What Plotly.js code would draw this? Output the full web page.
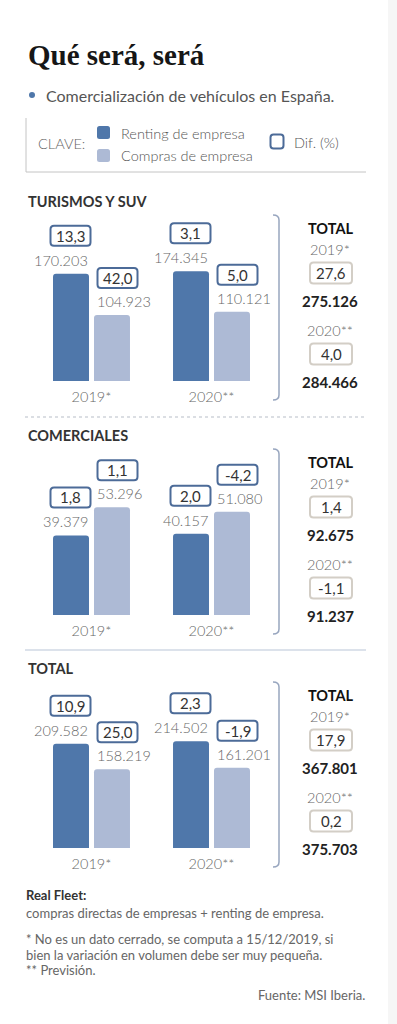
<!DOCTYPE html>
<html><head><meta charset="utf-8">
<script src="https://cdn.plot.ly/plotly-3.0.1.min.js"></script>
<style>html,body{margin:0;padding:0;background:#fff}</style>
</head><body><div id="chart" style="width:397px;height:1024px"></div>
<script>
// ---------- DATA ----------
const categories = ['2019*', '2020**'];
const seriesNames = ['Renting de empresa', 'Compras de empresa'];
const sectionTitles = ['TURISMOS Y SUV', 'COMERCIALES', 'TOTAL'];

const turismosRenting = [170203, 174345];
const turismosCompras = [104923, 110121];
const turismosRentingDif = [13.3, 3.1];
const turismosComprasDif = [42.0, 5.0];
const turismosTotal = [275126, 284466];
const turismosTotalDif = [27.6, 4.0];

const comercialesRenting = [39379, 40157];
const comercialesCompras = [53296, 51080];
const comercialesRentingDif = [1.8, 2.0];
const comercialesComprasDif = [1.1, -4.2];
const comercialesTotal = [92675, 91237];
const comercialesTotalDif = [1.4, -1.1];

const totalRenting = [209582, 214502];
const totalCompras = [158219, 161201];
const totalRentingDif = [10.9, 2.3];
const totalComprasDif = [25.0, -1.9];
const totalTotal = [367801, 375703];
const totalTotalDif = [17.9, 0.2];

const titleText = 'Qué será, será';
const subtitleText = 'Comercialización de vehículos en España.';
const footerLines = [
  '* No es un dato cerrado, se computa a 15/12/2019, si',
  'bien la variación en volumen debe ser muy pequeña.',
  '** Previsión.'
];

// ---------- LAYOUT HELPERS ----------
const W = 397, H = 1024;
const px = x => x / W;
const py = y => 1 - y / H;
const FONT = 'Lato, "Open Sans", sans-serif';
const DARK = '#4f77aa', LIGHT = '#adbad5';
const BOXBLUE = '#4c6b98', BOXBEIGE = '#d3cec6';
const GREY = '#666666';
const LIGHTFONT = (size, color) => ({family: FONT, size, color, weight: 300});

const fmtInt = v => String(v).replace(/\B(?=(\d{3})+(?!\d))/g, '.');
const fmtDec = v => v.toFixed(1).replace('.', ',');

// rounded rectangle path, centred at (cx, cy), map applies coordinate transform
function rrect(cx, cy, w, h, r, mx, my) {
  const a = w / 2, b = h / 2;
  const P = (x, y) => `${mx(x)} ${my(y)}`;
  return `M ${P(cx - a + r, cy - b)} L ${P(cx + a - r, cy - b)} Q ${P(cx + a, cy - b)} ${P(cx + a, cy - b + r)} ` +
    `L ${P(cx + a, cy + b - r)} Q ${P(cx + a, cy + b)} ${P(cx + a - r, cy + b)} ` +
    `L ${P(cx - a + r, cy + b)} Q ${P(cx - a, cy + b)} ${P(cx - a, cy + b - r)} ` +
    `L ${P(cx - a, cy - b + r)} Q ${P(cx - a, cy - b)} ${P(cx - a + r, cy - b)} Z`;
}
const ident = v => v;

const sections = [
  {renting: turismosRenting, compras: turismosCompras, rDif: turismosRentingDif, cDif: turismosComprasDif, total: turismosTotal, tDif: turismosTotalDif},
  {renting: comercialesRenting, compras: comercialesCompras, rDif: comercialesRentingDif, cDif: comercialesComprasDif, total: comercialesTotal, tDif: comercialesTotalDif},
  {renting: totalRenting, compras: totalCompras, rDif: totalRentingDif, cDif: totalComprasDif, total: totalTotal, tDif: totalTotalDif}
];
const baselines = [381, 615, 848];
const domH = 160;
const yMax = [254000, 79200, 321300];

const data = [];
const annotations = [];
const shapes = [];
const layout = {
  width: W, height: H,
  margin: {l: 0, r: 0, t: 0, b: 0},
  paper_bgcolor: '#fff', plot_bgcolor: 'rgba(0,0,0,0)',
  showlegend: false,
  barmode: 'group', bargap: 0.317, bargroupgap: 0.122,
  font: {family: FONT, color: '#444'},
  annotations, shapes
};

const ann = (o) => annotations.push(Object.assign({showarrow: false, font: {family: FONT, size: 14, color: '#444'}}, o));

sections.forEach((s, k) => {
  const sfx = k === 0 ? '' : String(k + 1);
  const xa = 'x' + sfx, ya = 'y' + sfx;
  const base = baselines[k];
  data.push({type: 'bar', x: categories, y: s.renting, name: seriesNames[0], xaxis: xa, yaxis: ya,
    marker: {color: DARK, cornerradius: 3}, hoverinfo: 'skip'});
  data.push({type: 'bar', x: categories, y: s.compras, name: seriesNames[1], xaxis: xa, yaxis: ya,
    marker: {color: LIGHT, cornerradius: 3}, hoverinfo: 'skip'});
  layout['xaxis' + sfx] = {domain: [px(31.5), px(271.5)], anchor: ya, type: 'category', range: [-0.5, 1.5],
    showgrid: false, zeroline: false, showline: false, ticks: '', fixedrange: true, ticklabelstandoff: 5,
    tickfont: LIGHTFONT(14.5, GREY)};
  layout['yaxis' + sfx] = {domain: [py(base), py(base - domH)], anchor: xa, range: [0, yMax[k]],
    visible: false, fixedrange: true};

  categories.forEach((c, i) => {
    // value labels
    ann({x: i, y: s.renting[i], xref: xa, yref: ya, text: fmtInt(s.renting[i]), xanchor: 'right', yanchor: 'bottom',
      xshift: -2, yshift: 3, font: LIGHTFONT(14.5, GREY)});
    ann({x: i, y: s.compras[i], xref: xa, yref: ya, text: fmtInt(s.compras[i]), xanchor: 'left', yanchor: 'bottom',
      xshift: 3, yshift: 3, font: LIGHTFONT(14.5, GREY)});
    // dif boxes (rounded, pixel-sized, anchored at bar top)
    [[s.renting[i], s.rDif[i], -21, 38], [s.compras[i], s.cDif[i], 26, 37]].forEach(([v, d, dx, dy]) => {
      shapes.push({type: 'path', xref: xa, yref: ya, xsizemode: 'pixel', ysizemode: 'pixel',
        xanchor: i, yanchor: v, path: rrect(dx, dy, 40, 20, 3.5, ident, ident),
        fillcolor: '#fff', line: {color: BOXBLUE, width: 2}});
      ann({x: i, y: v, xref: xa, yref: ya, text: fmtDec(d), xanchor: 'center', yanchor: 'middle',
        xshift: dx, yshift: dy, font: {family: FONT, size: 15, color: '#333'}});
    });
  });

  // section title
  ann({xref: 'paper', yref: 'paper', x: px(26), y: py(base - 180), xanchor: 'left', yanchor: 'middle',
    text: '<b>' + sectionTitles[k] + '</b>', font: {family: FONT, size: 14.5, color: '#333'}});

  // bracket
  const bt = base - 166, bb = base + 19;
  shapes.push({type: 'path', xref: 'paper', yref: 'paper',
    path: `M ${px(273)} ${py(bt)} Q ${px(279)} ${py(bt)} ${px(279)} ${py(bt + 5)} L ${px(279)} ${py(bb - 5)} Q ${px(279)} ${py(bb)} ${px(273)} ${py(bb)}`,
    line: {color: '#98a6bf', width: 1.5}});

  // TOTAL column
  const cxp = 330;
  ann({xref: 'paper', yref: 'paper', x: px(cxp), y: py(bt + 13), xanchor: 'center', yanchor: 'middle',
    text: '<b>TOTAL</b>', font: {family: FONT, size: 14.5, color: '#111'}});
  categories.forEach((c, i) => {
    const o = bt + i * 81;
    ann({xref: 'paper', yref: 'paper', x: px(cxp), y: py(o + 34), xanchor: 'center', yanchor: 'middle',
      text: c, font: LIGHTFONT(14.5, GREY)});
    shapes.push({type: 'path', xref: 'paper', yref: 'paper', path: rrect(cxp + 1, o + 58, 42, 21, 3.5, px, py),
      fillcolor: '#fff', line: {color: BOXBEIGE, width: 2}});
    ann({xref: 'paper', yref: 'paper', x: px(cxp + 1), y: py(o + 58), xanchor: 'center', yanchor: 'middle',
      text: fmtDec(s.tDif[i]), font: {family: FONT, size: 15, color: '#333'}});
    ann({xref: 'paper', yref: 'paper', x: px(cxp), y: py(o + 86), xanchor: 'center', yanchor: 'middle',
      text: '<b>' + fmtInt(s.total[i]) + '</b>', font: {family: FONT, size: 15, color: '#222'}});
  });
});

// separators
shapes.push({type: 'line', xref: 'paper', yref: 'paper', x0: px(25), x1: px(366), y0: py(417), y1: py(417),
  line: {color: '#cfd3da', width: 1.5, dash: 'dot'}});
shapes.push({type: 'line', xref: 'paper', yref: 'paper', x0: px(25), x1: px(366), y0: py(650), y1: py(650),
  line: {color: '#b9c5d8', width: 1.2}});
// right grey strip
shapes.push({type: 'rect', xref: 'paper', yref: 'paper', x0: px(388), x1: 1, y0: 0, y1: 1,
  fillcolor: '#f6f6f6', line: {width: 0}, layer: 'below'});

// title & subtitle
ann({xref: 'paper', yref: 'paper', x: px(26), y: py(55), xanchor: 'left', yanchor: 'middle',
  text: '<b>' + titleText + '</b>', font: {family: '"Liberation Serif", "DejaVu Serif", serif', size: 29, color: '#161616'}});
shapes.push({type: 'circle', xref: 'paper', yref: 'paper', x0: px(29), x1: px(35), y0: py(92), y1: py(98),
  fillcolor: DARK, line: {width: 0}});
ann({xref: 'paper', yref: 'paper', x: px(44), y: py(95), xanchor: 'left', yanchor: 'middle',
  text: subtitleText, font: {family: FONT, size: 16, color: '#555'}});

// key box
shapes.push({type: 'path', xref: 'paper', yref: 'paper',
  path: `M ${px(26)} ${py(118)} L ${px(26)} ${py(172)} L ${px(366)} ${py(172)}`,
  line: {color: '#c4c4c4', width: 1}});
ann({xref: 'paper', yref: 'paper', x: px(36), y: py(143), xanchor: 'left', yanchor: 'middle',
  text: 'CLAVE:', font: LIGHTFONT(14.5, GREY)});
shapes.push({type: 'path', xref: 'paper', yref: 'paper', path: rrect(103.5, 132.5, 13, 13, 2.5, px, py),
  fillcolor: DARK, line: {width: 0}});
shapes.push({type: 'path', xref: 'paper', yref: 'paper', path: rrect(103.5, 155.5, 13, 13, 2.5, px, py),
  fillcolor: LIGHT, line: {width: 0}});
ann({xref: 'paper', yref: 'paper', x: px(119), y: py(133), xanchor: 'left', yanchor: 'middle',
  text: seriesNames[0], font: LIGHTFONT(14.5, '#555')});
ann({xref: 'paper', yref: 'paper', x: px(119), y: py(155), xanchor: 'left', yanchor: 'middle',
  text: seriesNames[1], font: LIGHTFONT(14.5, '#555')});
shapes.push({type: 'path', xref: 'paper', yref: 'paper', path: rrect(277, 141.5, 13, 14, 3, px, py),
  fillcolor: '#fff', line: {color: BOXBLUE, width: 2}});
ann({xref: 'paper', yref: 'paper', x: px(292), y: py(142), xanchor: 'left', yanchor: 'middle',
  text: 'Dif. (%)', font: LIGHTFONT(14.5, '#555')});

// footer
ann({xref: 'paper', yref: 'paper', x: px(24), y: py(895), xanchor: 'left', yanchor: 'middle',
  text: '<b>Real Fleet:</b>', font: {family: FONT, size: 13, color: '#333'}});
ann({xref: 'paper', yref: 'paper', x: px(24), y: py(913), xanchor: 'left', yanchor: 'middle',
  text: 'compras directas de empresas + renting de empresa.', font: {family: FONT, size: 13, color: '#666'}});
footerLines.forEach((t, i) => ann({xref: 'paper', yref: 'paper', x: px(24), y: py(939 + i * 15.5), xanchor: 'left', yanchor: 'middle',
  text: t, font: {family: FONT, size: 13, color: '#666'}}));
ann({xref: 'paper', yref: 'paper', x: px(367), y: py(995), xanchor: 'right', yanchor: 'middle',
  text: 'Fuente: MSI Iberia.', font: {family: FONT, size: 13, color: '#666'}});

Plotly.newPlot('chart', data, layout, {staticPlot: true, displayModeBar: false});
</script></body></html>
